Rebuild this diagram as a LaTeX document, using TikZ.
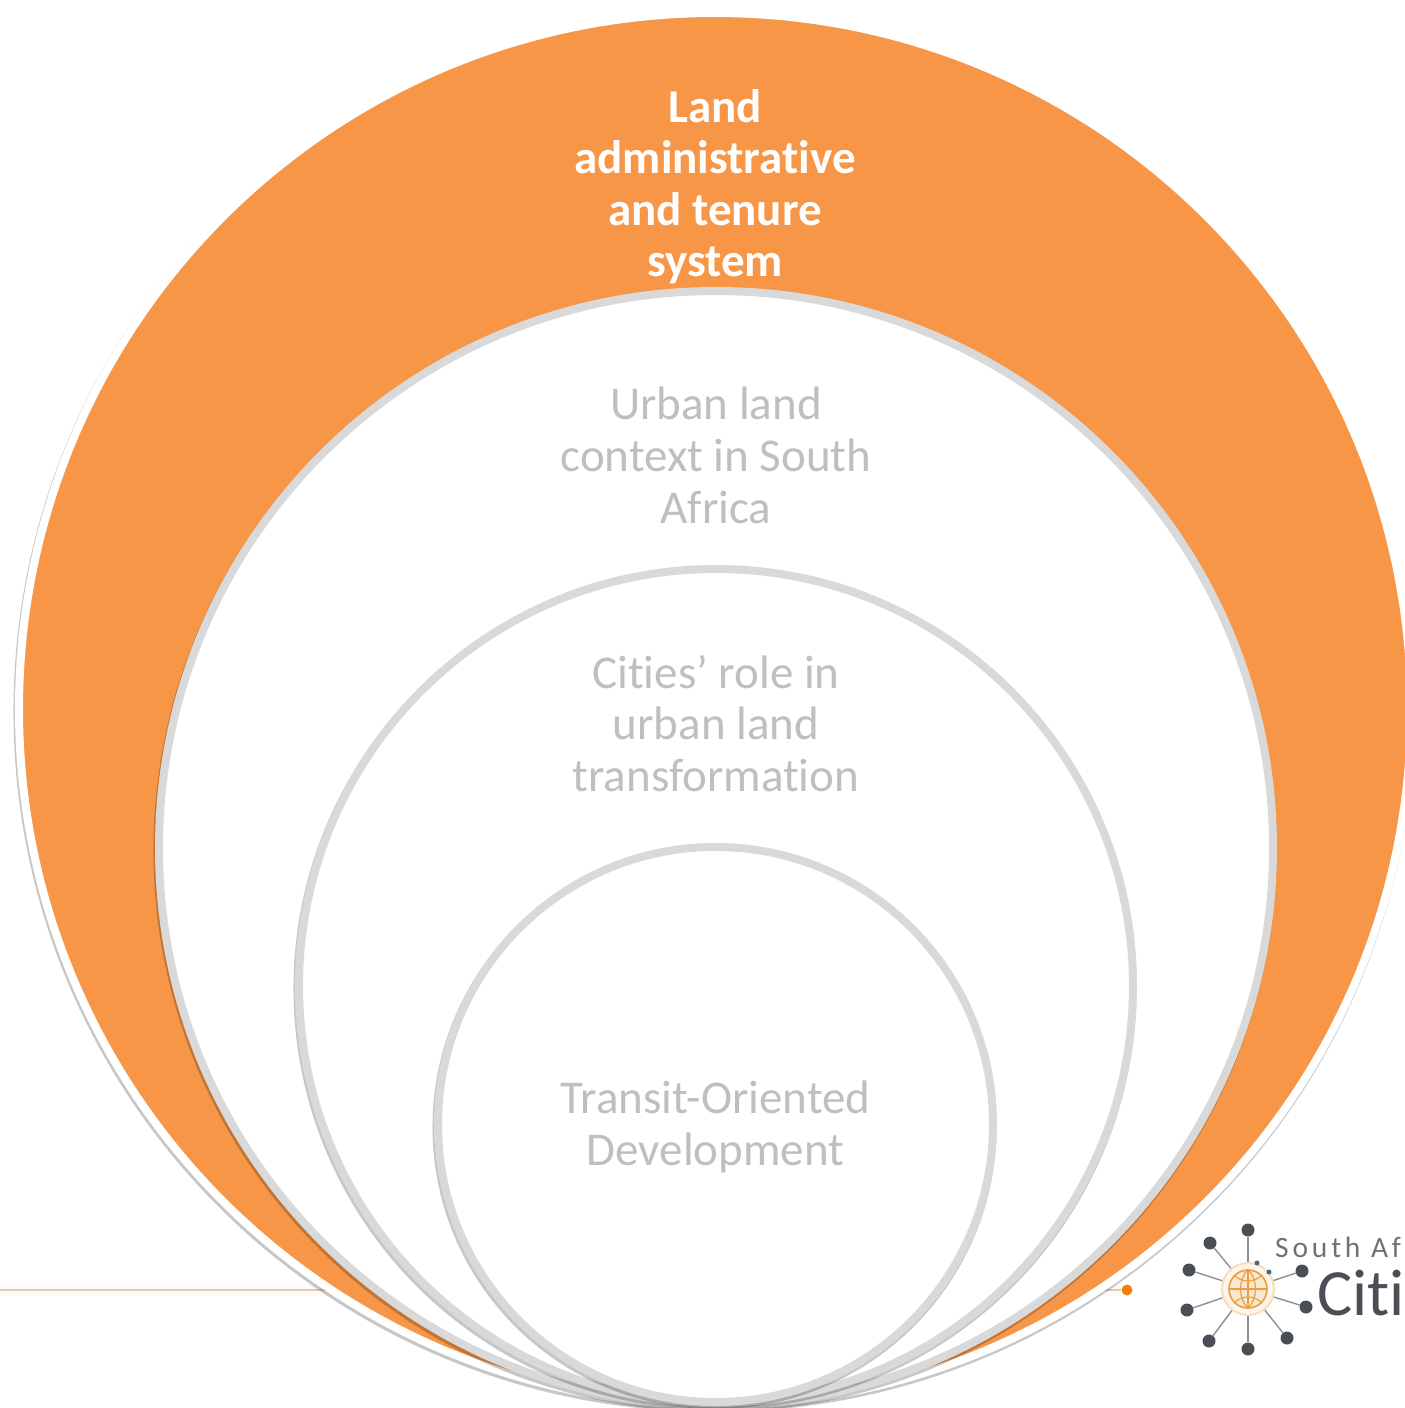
\documentclass[tikz,border=0pt]{standalone}
\usepackage{fontspec}
\setmainfont{Carlito}[Ligatures=NoCommon]
\usepackage{tikz}
\usetikzlibrary{positioning,shadows}
\definecolor{ringorange}{HTML}{F79646}
\definecolor{ringgray}{HTML}{D9D9D9}
\definecolor{labelgray}{HTML}{BFBFBF}
\definecolor{logogray}{HTML}{4A4F55}
\definecolor{logoline}{HTML}{8C9096}
\definecolor{globeorange}{HTML}{E9A040}
\definecolor{logoteal}{HTML}{3F6F80}
\definecolor{linetan}{HTML}{D6CDBD}
\tikzset{
    ringbase/.style={circle, inner sep=0pt, line width=8pt, drop shadow={shadow scale=#1, shadow xshift=-1pt, shadow yshift=-2.5pt, fill=black, opacity=.22}},
    ringlabel/.style={inner sep=0pt, align=center, text=labelgray, font=\fontsize{47}{51.6}\selectfont},
    logodot/.style={circle, fill=logogray, inner sep=0pt, minimum size=13pt},
    logospoke/.style={logoline, line width=1.4pt}
}

\begin{document}
\begin{tikzpicture}[x=1pt, y=-1pt]
    \useasboundingbox (0,0) rectangle (1405,1408);

    \coordinate (linestart) at (0,1290);
    \node[circle, fill=orange!85!brown, inner sep=0pt, minimum size=11pt] (linedot) at (1127,1290) {};
    \draw[line width=12pt, orange!4] (linestart) -- (linedot);
    \draw[line width=1.5pt, linetan] (linestart) -- (linedot);

    \node[ringbase=1.0065, draw=white, fill=ringorange, minimum size=1392pt] (ringland) at (715,709) {};
    \node[ringbase=1.0081, draw=ringgray, fill=white, minimum size=1114pt] (ringurban) at (716,848) {};
    \node[ringbase=1.0108, draw=ringgray, fill=white, minimum size=834pt] (ringcities) at (716,986) {};
    \node[ringbase=1.0162, draw=ringgray, fill=white, minimum size=555pt] (ringtransit) at (715.5,1124.5) {};

    \node[ringlabel, text=white, font=\fontsize{47}{51.6}\selectfont\bfseries, below=80pt of ringland.north] (land) {Land\\administrative\\and tenure\\system};
    \node[ringlabel, below=100pt of ringurban.north] (urban) {Urban land\\context in South\\Africa};
    \node[ringlabel, below=90pt of ringcities.north] (cities) {Cities’ role in\\urban land\\transformation};
    \node[ringlabel, below=238pt of ringtransit.north] (transit) {Transit-Oriented\\Development};

    \node[circle, draw=globeorange!35, fill=orange!8, line width=2pt, inner sep=0pt, minimum size=52pt] (hub) at (1248,1289) {};
    \node[circle, draw=globeorange, fill=globeorange!25, line width=1.6pt, inner sep=0pt, minimum size=38pt] (globe) at (hub.center) {};
    \draw[globeorange, line width=1.2pt] (globe.north) -- (globe.south);
    \draw[globeorange, line width=1.2pt] (globe.west) -- (globe.east);
    \draw[globeorange, line width=1.2pt] (globe.north) .. controls (1238,1280) and (1238,1298) .. (globe.south);
    \draw[globeorange, line width=1.2pt] (globe.north) .. controls (1258,1280) and (1258,1298) .. (globe.south);
    \draw[globeorange, line width=1.2pt] (globe.north west) .. controls (1242,1283) and (1254,1283) .. (globe.north east);
    \draw[globeorange, line width=1.2pt] (globe.south west) .. controls (1242,1295) and (1254,1295) .. (globe.south east);

    \node[logodot] (dota) at (1248,1230) {};
    \node[logodot] (dotb) at (1210,1243) {};
    \node[logodot] (dotc) at (1189,1270) {};
    \node[logodot] (dotd) at (1187,1310) {};
    \node[logodot] (dote) at (1209,1341) {};
    \node[logodot] (dotf) at (1248,1349) {};
    \node[logodot] (dotg) at (1287,1338) {};
    \node[logodot] (doth) at (1306,1307) {};
    \node[logodot] (doti) at (1302,1271) {};
    \node[circle, fill=logoteal, inner sep=0pt, minimum size=5pt] (dotj) at (1257,1263) {};
    \node[circle, fill=logoteal, inner sep=0pt, minimum size=5pt] (dotk) at (1269,1272) {};

    \draw[logospoke] (hub) -- (dota);
    \draw[logospoke] (hub) -- (dotb);
    \draw[logospoke] (hub) -- (dotc);
    \draw[logospoke] (hub) -- (dotd);
    \draw[logospoke] (hub) -- (dote);
    \draw[logospoke] (hub) -- (dotf);
    \draw[logospoke] (hub) -- (dotg);
    \draw[logospoke] (hub) -- (doth);
    \draw[logospoke] (hub) -- (doti);

    \node[inner sep=0pt, anchor=base west, text=logogray!80, font=\fontsize{29.5}{29.5}\selectfont\addfontfeature{LetterSpace=13}] (logotop) at (1275,1257) {South Af};
    \node[inner sep=0pt, anchor=base west, text=logogray, font=\fontsize{66}{66}\selectfont] (logoname) at (1317,1315) {Citi};
\end{tikzpicture}
\end{document}
